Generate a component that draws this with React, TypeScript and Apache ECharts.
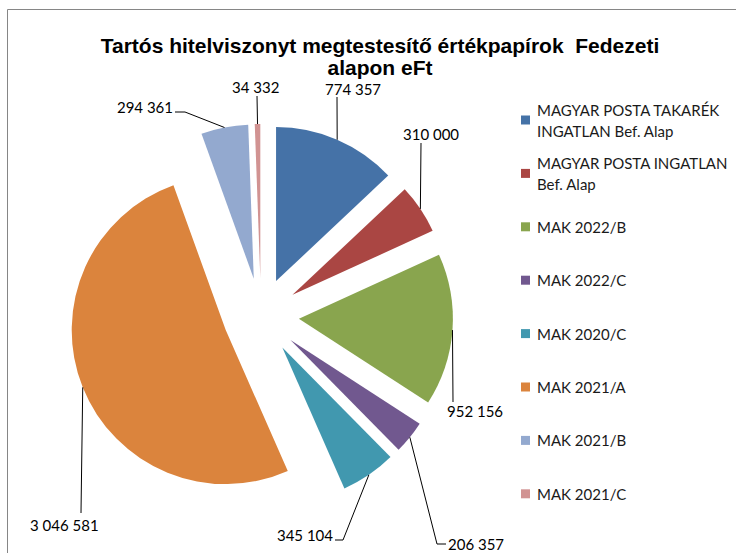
import React, { useEffect, useRef } from "react";
import * as echarts from "echarts";

const TITLE = "Tartós hitelviszonyt megtestesítő értékpapírok  Fedezeti\nalapon eFt";
const CATEGORIES = [
  "MAGYAR POSTA TAKARÉK\nINGATLAN Bef. Alap",
  "MAGYAR POSTA INGATLAN\nBef. Alap",
  "MAK 2022/B",
  "MAK 2022/C",
  "MAK 2020/C",
  "MAK 2021/A",
  "MAK 2021/B",
  "MAK 2021/C",
];
const VALUES = [774357, 310000, 952156, 206357, 345104, 3046581, 294361, 34332];
const COLORS = ["#4572A7", "#AA4643", "#89A54E", "#71588F", "#4198AF", "#DB843D", "#93A9CF", "#D19392"];

// pie layout
const CX = 261;
const CY = 316;
const R = 154;
const EXPLODE = 38;

// label placement (text anchor x, y, align) and leader-line bend points
const LABEL_POS: [number, number, string][] = [
  [325, 89, "left"],
  [403, 134, "left"],
  [447, 411, "left"],
  [448, 544, "left"],
  [333, 535, "right"],
  [30, 525, "left"],
  [173, 107, "right"],
  [232, 87, "left"],
];
const LEADER_BENDS: number[][][] = [
  [[337, 97]],
  [[421, 143]],
  [[453, 402]],
  [[437, 544], [446, 544]],
  [[343, 540], [335, 540]],
  [[81, 513]],
  [[185, 112], [175, 112]],
  [[257, 96]],
];

const fmt = (v: number) => String(v).replace(/\B(?=(\d{3})+(?!\d))/g, " ");

function leaderGraphics() {
  const total = VALUES.reduce((a, b) => a + b, 0);
  let cum = 0;
  const out: any[] = [];
  VALUES.forEach((v, i) => {
    const midFrac = (cum + v / 2) / total;
    cum += v;
    const theta = ((90 - 360 * midFrac) * Math.PI) / 180;
    const dx = Math.cos(theta);
    const dy = -Math.sin(theta);
    const start = [CX + (EXPLODE + R) * dx, CY + (EXPLODE + R) * dy];
    out.push({
      type: "polyline",
      silent: true,
      shape: { points: [start, ...LEADER_BENDS[i]] },
      style: { stroke: "#000000", lineWidth: 1, fill: null },
      z: 10,
    });
    const [x, y, align] = LABEL_POS[i];
    out.push({
      type: "text",
      silent: true,
      x,
      y,
      style: {
        text: fmt(v),
        fontFamily: "Lato",
        fontSize: 15,
        fill: "#000000",
        align,
        verticalAlign: "middle",
      },
      z: 10,
    });
  });
  return out;
}

export default function App() {
  const ref = useRef<HTMLDivElement>(null);
  useEffect(() => {
    if (!ref.current) return;
    const chart = echarts.init(ref.current, null, { renderer: "svg" });
    chart.setOption({
      animation: false,
      backgroundColor: "#ffffff",
      title: {
        text: TITLE,
        left: 380,
        top: 34,
        textAlign: "center",
        padding: 0,
        textStyle: {
          fontFamily: "Liberation Sans",
          fontWeight: "bold",
          fontSize: 21,
          lineHeight: 22,
          color: "#000000",
        },
      },
      legend: {
        orient: "vertical",
        left: 521,
        top: 88.5,
        padding: 0,
        itemGap: -9.6,
        itemWidth: 9,
        itemHeight: 9,
        icon: "rect",
        selectedMode: false,
        data: CATEGORIES.map((n) => ({
          name: n,
          textStyle: {
            padding: n.includes("\n") ? [21, 0, 0, 2] : [21, 0, 21, 2],
            backgroundColor: "rgba(0,0,0,0)",
          },
        })),
        textStyle: {
          fontFamily: "Lato",
          fontSize: 15,
          lineHeight: 21,
          color: "#1a1a1a",
        },
      },
      graphic: [
        {
          type: "rect",
          silent: true,
          shape: { x: 7.5, y: 9.5, width: 800, height: 600 },
          style: { fill: "none", stroke: "#868686", lineWidth: 1 },
        },
        ...leaderGraphics(),
      ],
      series: [
        {
          type: "pie",
          center: [CX, CY],
          radius: R,
          startAngle: 90,
          clockwise: true,
          selectedMode: "multiple",
          selectedOffset: EXPLODE,
          avoidLabelOverlap: false,
          silent: true,
          emphasis: { scale: false },
          itemStyle: { borderWidth: 0 },
          label: { show: false },
          labelLine: { show: false },
          data: CATEGORIES.map((name, i) => ({
            name,
            value: VALUES[i],
            selected: true,
            itemStyle: { color: COLORS[i] },
          })),
        },
      ],
    });
    return () => chart.dispose();
  }, []);
  return (
    <div
      ref={ref}
      style={{ position: "fixed", left: 0, top: 0, width: 736, height: 553 }}
    />
  );
}
